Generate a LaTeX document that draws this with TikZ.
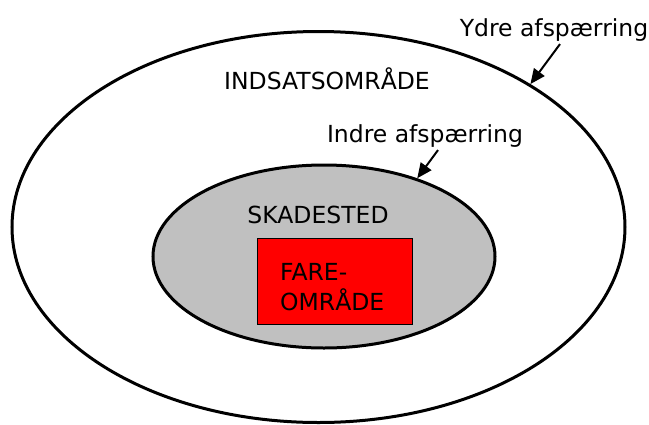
\documentclass[tikz,border=0pt]{standalone}
\usepackage{fontspec}
\setmainfont{DejaVu Sans}
\usetikzlibrary{shapes.geometric,arrows.meta}
\definecolor{skadegraa}{HTML}{C0C0C0}
\definecolor{farerod}{HTML}{FF0000}
\begin{document}
\begin{tikzpicture}[x=1pt,y=-1pt,
    zone/.style={draw,ellipse,line width=3pt,inner sep=0pt},
    tekst/.style={inner sep=0pt,font=\fontsize{23.5}{30}\selectfont},
    pil/.style={-{Triangle[length=15pt,width=13pt]},line width=2pt}]
            \useasboundingbox (0,0) rectangle (649,424);
            \node [zone,minimum width=613pt,minimum height=391pt] (indsats) at (318.5,227) {};
            \node [zone,fill=skadegraa,minimum width=342pt,minimum height=183pt] (skade) at (324,256.5) {};
            \node [draw,line width=1pt,fill=farerod,minimum width=155pt,minimum height=86pt] (fare) at (334.5,281) {};
            \node [tekst,anchor=base] (indsatstekst) at (327,89) {INDSATSOMRÅDE};
            \node [tekst,anchor=base] (skadetekst) at (318,223) {SKADESTED};
            \node [tekst,anchor=north west,align=left] (faretekst) at (280,263) {FARE-\\OMRÅDE};
            \node [tekst,anchor=base] (ydre) at (554,36) {Ydre afspærring};
            \node [tekst,anchor=base] (indre) at (425,142) {Indre afspærring};
            \draw[pil] ([xshift=6pt,yshift=-3pt]ydre.south) -- (indsats.34);
            \draw[pil] ([xshift=13pt,yshift=-3pt]indre.south) -- (skade.40);
            \end{tikzpicture}
\end{document}
